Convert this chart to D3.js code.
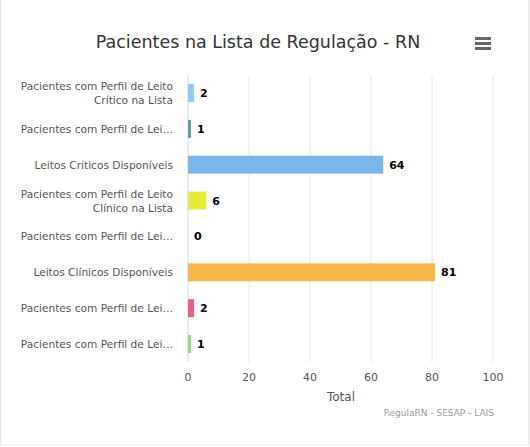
<!DOCTYPE html>
<html><head><meta charset="utf-8">
<script src="https://cdn.jsdelivr.net/npm/d3@7"></script>
<style>
body{margin:0;background:#fff;font-family:"DejaVu Sans",sans-serif;}
</style></head><body><div id="chart"></div>
<script>
var labels = [
  ["Pacientes com Perfil de Leito", "Crítico na Lista"],
  ["Pacientes com Perfil de Lei…"],
  ["Leitos Críticos Disponíveis"],
  ["Pacientes com Perfil de Leito", "Clínico na Lista"],
  ["Pacientes com Perfil de Lei…"],
  ["Leitos Clínicos Disponíveis"],
  ["Pacientes com Perfil de Lei…"],
  ["Pacientes com Perfil de Lei…"]
];
var values = [2, 1, 64, 6, 0, 81, 2, 1];
var colors = ["#90caf9", "#5f9ea0", "#7cb5ec", "#e4ee3a", "#434348", "#f7b84b", "#f15c80", "#7fe37a"];
var ticks = [0, 20, 40, 60, 80, 100];

var W = 530, H = 447;
var svg = d3.select('#chart').append('svg').attr('width', W).attr('height', H);
svg.append('rect').attr('x', 0.5).attr('y', -1).attr('width', W - 2).attr('height', H - 1)
  .attr('fill', '#fff').attr('stroke', '#e6e6e6');

svg.append('text').attr('x', 258).attr('y', 48).attr('text-anchor', 'middle')
  .style('font-size', '17.5px').attr('fill', '#333').text('Pacientes na Lista de Regulação - RN');
[0, 5, 10].forEach(function (d) {
  svg.append('rect').attr('x', 475).attr('y', 37 + d).attr('width', 16).attr('height', 3).attr('fill', '#666');
});

var x = d3.scaleLinear().domain([0, 100]).range([188, 493]);
var y = d3.scaleBand().domain(d3.range(values.length)).range([75, 362]).paddingInner(0.5).paddingOuter(0.25);

svg.append('g').selectAll('line').data(ticks).enter().append('line')
  .attr('x1', d => x(d)).attr('x2', d => x(d)).attr('y1', 75).attr('y2', 362)
  .attr('stroke', d => d === 0 ? '#ccd6eb' : '#e6e6e6');

svg.append('g').selectAll('rect').data(values).enter().append('rect')
  .attr('x', x(0)).attr('y', (d, i) => y(i))
  .attr('width', d => x(d) - x(0)).attr('height', y.bandwidth())
  .attr('fill', (d, i) => colors[i]);

svg.append('g').selectAll('text').data(values).enter().append('text')
  .attr('x', d => x(d) + 6).attr('y', (d, i) => y(i) + y.bandwidth() / 2 + 4)
  .style('font-size', '11px').style('font-weight', 'bold').attr('fill', '#000').text(d => d);

var lab = svg.append('g').selectAll('text').data(labels).enter().append('text')
  .attr('text-anchor', 'end').style('font-size', '10.6px').attr('fill', '#555')
  .attr('y', (d, i) => y(i) + y.bandwidth() / 2 + 4 - (d.length - 1) * 7);
lab.selectAll('tspan').data(d => d).enter().append('tspan')
  .attr('x', 173).attr('dy', (d, j) => j ? 14 : 0).text(d => d);

svg.append('g').selectAll('text').data(ticks).enter().append('text')
  .attr('x', d => x(d)).attr('y', 381).attr('text-anchor', 'middle')
  .style('font-size', '11px').attr('fill', '#555').text(d => d);

svg.append('text').attr('x', 341).attr('y', 401).attr('text-anchor', 'middle')
  .style('font-size', '12px').attr('fill', '#555').text('Total');
svg.append('text').attr('x', 494).attr('y', 416).attr('text-anchor', 'end')
  .style('font-size', '9px').attr('fill', '#999').text('RegulaRN - SESAP - LAIS');
</script></body></html>
